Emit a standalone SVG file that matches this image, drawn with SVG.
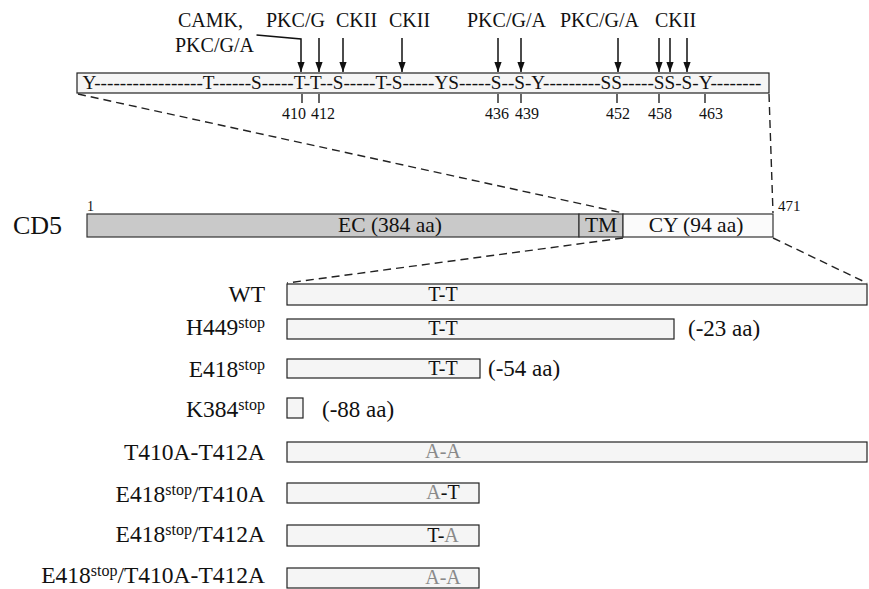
<svg xmlns="http://www.w3.org/2000/svg" width="869" height="589" viewBox="0 0 869 589" font-family="'Liberation Serif', Tinos, 'Times New Roman', 'DejaVu Serif', serif">
<defs>
<marker id="ah" markerUnits="userSpaceOnUse" markerWidth="10" markerHeight="11" viewBox="0 0 11 10" refX="11" refY="5" orient="auto">
<path d="M0,1 L11,5 L0,9 z" fill="#111"/>
</marker>
</defs>
<style>
text{font-family:'Liberation Serif',Tinos,'Times New Roman','DejaVu Serif',serif;fill:#111}
.lab{font-size:20px}
.num{font-size:16px;text-anchor:middle}
.seq{font-size:18.75px}
.box{fill:#f5f5f5;stroke:#222;stroke-width:1.2}
.arr{stroke:#111;stroke-width:1.5;fill:none;marker-end:url(#ah)}
.tick{stroke:#111;stroke-width:1.3}
.dash{stroke:#222;stroke-width:1.4;stroke-dasharray:8 5;fill:none}
.name{font-size:23.5px;text-anchor:end}
.sup{font-size:16px}
.mid{font-size:20px;text-anchor:middle}
.bar{font-size:21.5px;text-anchor:middle}
.g{fill:#8a8a8a}
.del{font-size:23px}
</style>
<rect width="869" height="589" fill="#fff"/>

<g id="connectors">
<line class="dash" x1="78" y1="94" x2="623" y2="213"/>
<line class="dash" x1="769" y1="94" x2="773" y2="213"/>
<line class="dash" x1="623" y1="238" x2="287" y2="283"/>
<line class="dash" x1="773" y1="238" x2="867" y2="283"/>
<polyline class="arr" points="256.5,35 301,39 301,72"/>
<line class="arr" x1="319" y1="38" x2="319" y2="72"/>
<line class="arr" x1="343" y1="38" x2="343" y2="72"/>
<line class="arr" x1="402" y1="38" x2="402" y2="72"/>
<line class="arr" x1="498" y1="38" x2="498" y2="72"/>
<line class="arr" x1="521" y1="38" x2="521" y2="72"/>
<line class="arr" x1="618" y1="38" x2="618" y2="72"/>
<line class="arr" x1="659" y1="38" x2="659" y2="72"/>
<line class="arr" x1="670" y1="38" x2="670" y2="72"/>
<line class="arr" x1="687" y1="38" x2="687" y2="72"/>
</g>

<g id="kinase-labels">
<text class="lab" x="178" y="27">CAMK,</text>
<text class="lab" x="175" y="52">PKC/G/A</text>
<text class="lab" x="266" y="27">PKC/G</text>
<text class="lab" x="336" y="27">CKII</text>
<text class="lab" x="389" y="27">CKII</text>
<text class="lab" x="467" y="27">PKC/G/A</text>
<text class="lab" x="560" y="27">PKC/G/A</text>
<text class="lab" x="655" y="27">CKII</text>
</g>

<g id="cytoplasmic-sequence">
<rect class="box" x="77" y="73" width="692" height="20"/>
<text class="seq" x="82.5" y="89" textLength="679" lengthAdjust="spacingAndGlyphs">Y-----------------T------S-----T-T--S-----T-S-----YS-----S--S-Y---------SS-----SS-S-Y--------</text>
<line class="tick" x1="302" y1="94" x2="302" y2="103"/>
<line class="tick" x1="319" y1="94" x2="319" y2="103"/>
<line class="tick" x1="498" y1="94" x2="498" y2="103"/>
<line class="tick" x1="521" y1="94" x2="521" y2="103"/>
<line class="tick" x1="617" y1="94" x2="617" y2="103"/>
<line class="tick" x1="659" y1="94" x2="659" y2="103"/>
<line class="tick" x1="705" y1="94" x2="705" y2="103"/>
<text class="num" x="294" y="119">410</text>
<text class="num" x="323" y="119">412</text>
<text class="num" x="497" y="119">436</text>
<text class="num" x="527" y="119">439</text>
<text class="num" x="618" y="119">452</text>
<text class="num" x="660" y="119">458</text>
<text class="num" x="711" y="119">463</text>
</g>

<g id="cd5">
<text x="13" y="234" style="font-size:26px">CD5</text>
<text x="87" y="211" style="font-size:14px">1</text>
<text x="778" y="211" style="font-size:15px">471</text>
<rect x="87" y="214" width="492" height="23" fill="#c9c9c9" stroke="#333" stroke-width="1.2"/>
<rect x="579" y="214" width="44" height="23" fill="#c9c9c9" stroke="#333" stroke-width="1.2"/>
<rect x="623" y="214" width="150" height="23" fill="#fbfbfb" stroke="#333" stroke-width="1.2"/>
<text class="bar" x="390" y="232">EC (384 aa)</text>
<text class="bar" x="601" y="232">TM</text>
<text class="bar" x="696" y="232">CY (94 aa)</text>
</g>

<g id="wt">
<text class="name" x="265" y="302">WT</text>
<rect class="box" x="287" y="284" width="580" height="21"/>
<text class="mid" x="443" y="301">T-T</text>
</g>

<g id="h449stop">
<text class="name" x="265" y="335">H449<tspan class="sup" dy="-7">stop</tspan></text>
<rect class="box" x="287" y="319" width="387" height="20"/>
<text class="mid" x="443" y="335">T-T</text>
<text class="del" x="688" y="336">(-23 aa)</text>
</g>

<g id="e418stop">
<text class="name" x="265" y="377">E418<tspan class="sup" dy="-7">stop</tspan></text>
<rect class="box" x="287" y="359" width="193" height="19"/>
<text class="mid" x="443" y="375">T-T</text>
<text class="del" x="488" y="376">(-54 aa)</text>
</g>

<g id="k384stop">
<text class="name" x="265" y="417">K384<tspan class="sup" dy="-7">stop</tspan></text>
<rect class="box" x="287" y="398" width="16" height="20"/>
<text class="del" x="322" y="417">(-88 aa)</text>
</g>

<g id="t410a-t412a">
<text class="name" x="265" y="460">T410A-T412A</text>
<rect class="box" x="287" y="442" width="580" height="20"/>
<text class="mid g" x="443" y="458">A-A</text>
</g>

<g id="e418stop-t410a">
<text class="name" x="265" y="502">E418<tspan class="sup" dy="-7">stop</tspan><tspan dy="7">/T410A</tspan></text>
<rect class="box" x="287" y="483" width="192" height="20"/>
<text class="mid" x="443" y="499"><tspan class="g">A</tspan>-T</text>
</g>

<g id="e418stop-t412a">
<text class="name" x="265" y="542">E418<tspan class="sup" dy="-7">stop</tspan><tspan dy="7">/T412A</tspan></text>
<rect class="box" x="287" y="525" width="192" height="21"/>
<text class="mid" x="443" y="542">T-<tspan class="g">A</tspan></text>
</g>

<g id="e418stop-t410a-t412a">
<text class="name" x="265" y="583">E418<tspan class="sup" dy="-7">stop</tspan><tspan dy="7">/T410A-T412A</tspan></text>
<rect class="box" x="287" y="568" width="192" height="20"/>
<text class="mid g" x="443" y="584">A-A</text>
</g>
</svg>
